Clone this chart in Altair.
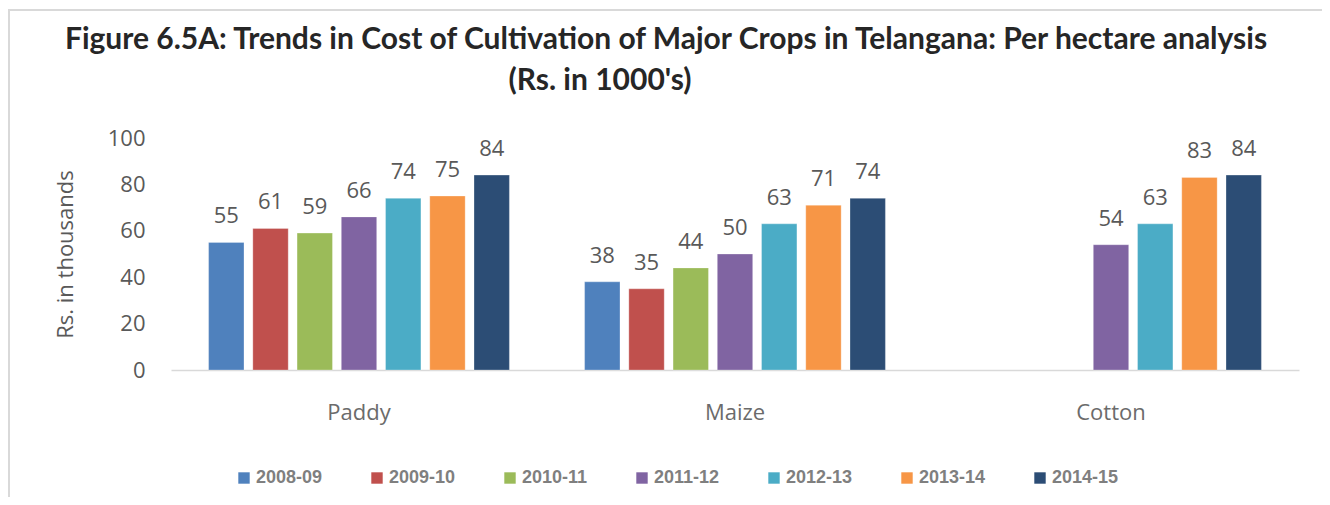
import altair as alt
import pandas as pd

crops = ["Paddy", "Maize", "Cotton"]
years = ["2008-09", "2009-10", "2010-11", "2011-12", "2012-13", "2013-14", "2014-15"]
paddy = [55, 61, 59, 66, 74, 75, 84]
maize = [38, 35, 44, 50, 63, 71, 74]
cotton = [None, None, None, 54, 63, 83, 84]
colors = ["#4F81BD", "#C0504D", "#9BBB59", "#8064A2", "#4BACC6", "#F79646", "#2C4D75"]

rows = []
for crop, vals in zip(crops, [paddy, maize, cotton]):
    for y, v in zip(years, vals):
        if v is not None:
            rows.append({"Crop": crop, "Year": y, "Value": v})
df = pd.DataFrame(rows)

PAD = "\u2800"
line1 = "Figure 6.5A: Trends in Cost of Cultivation of Major Crops in Telangana: Per hectare analysis"
line2 = "(Rs. in 1000's)" + PAD * 6

base = alt.Chart(df).encode(
    x=alt.X("Crop:N", sort=crops,
            scale=alt.Scale(paddingInner=0.2, paddingOuter=0.1),
            axis=alt.Axis(title=None, labelAngle=0, ticks=False, tickSize=0,
                          domainColor="#D9D9D9", domainWidth=1.5,
                          labelFont="Open Sans", labelFontSize=22, labelColor="#6B6B6B",
                          labelPadding=32, grid=False)),
    xOffset=alt.XOffset("Year:N", sort=years,
                        scale=alt.Scale(domain=years, paddingInner=0.2, paddingOuter=0)),
    y=alt.Y("Value:Q", scale=alt.Scale(domain=[0, 100], nice=False),
            axis=alt.Axis(title="Rs. in thousands", values=[0, 20, 40, 60, 80, 100],
                          ticks=False, tickSize=0, domain=False, grid=False,
                          labelFont="Open Sans", labelFontSize=22, labelColor="#595959",
                          labelPadding=26, titleFont="Open Sans", titleFontSize=22,
                          titleFontWeight="normal", titleColor="#595959", titlePadding=30)),
)

bars = base.mark_bar(stroke="#FFFFFF", strokeOpacity=0.35, strokeWidth=0.8).encode(
    color=alt.Color("Year:N", sort=years,
                    scale=alt.Scale(domain=years, range=colors),
                    legend=alt.Legend(title=None, orient="none", direction="horizontal",
                                      legendX=64, legendY=331, columns=7,
                                      columnPadding=45, symbolType="square", symbolSize=130,
                                      symbolStrokeWidth=0, labelOffset=3,
                                      labelFont="Liberation Sans", labelFontSize=18,
                                      labelFontWeight="bold", labelColor="#7F7F7F"))
)

labels = base.mark_text(baseline="alphabetic", dy=-19, font="Open Sans",
                        fontSize=22, color="#595959").encode(
    text=alt.Text("Value:Q", format=".0f")
)

frame_df = pd.DataFrame({"k": [0]})
frame_left = alt.Chart(frame_df).mark_rule(color="#D9D9D9", strokeWidth=2).encode(
    x=alt.value(-162), y=alt.value(-128), y2=alt.value(400))
frame_top = alt.Chart(frame_df).mark_rule(color="#D9D9D9", strokeWidth=2).encode(
    x=alt.value(-163), x2=alt.value(1200), y=alt.value(-128))

chart = alt.layer(frame_left, frame_top, bars, labels).properties(
    width=1128,
    height=232,
    autosize=alt.AutoSizeParams(type="none"),
    padding={"left": 163, "top": 130, "right": 23, "bottom": 127},
    title=alt.TitleParams(text=line1, subtitle=line2, anchor="middle", frame="group",
                          dx=-69, offset=-87, font="Lato", fontSize=30, fontWeight="bold",
                          color="#262626", subtitleFont="Lato", subtitleFontSize=30,
                          subtitleFontWeight="bold", subtitleColor="#262626",
                          subtitlePadding=11),
).configure_view(stroke=None)

chart.save("out.html", embed_options={"renderer": "svg", "actions": False})
